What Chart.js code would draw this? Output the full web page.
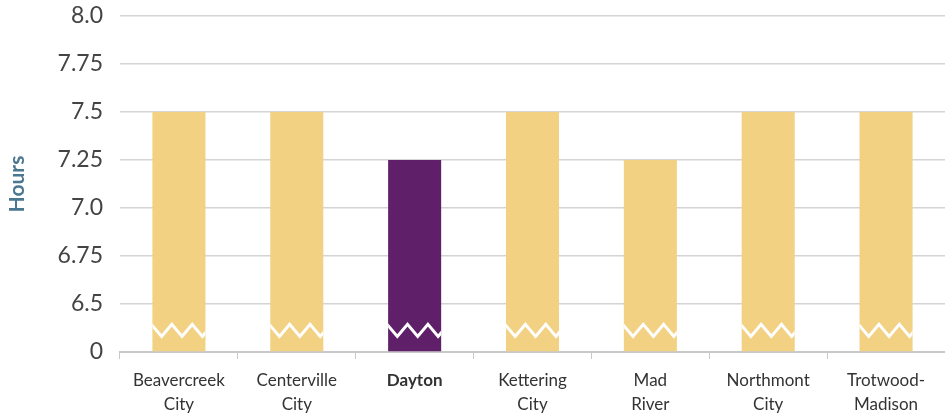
<!DOCTYPE html>
<html>
<head>
<meta charset="utf-8">
<script src="https://cdn.jsdelivr.net/npm/chart.js@4/dist/chart.umd.min.js"></script>
<style>
  html, body { margin: 0; padding: 0; background: #fff; }
  #wrap { width: 945px; height: 420px; position: relative; }
</style>
</head>
<body>
<div id="wrap"><canvas id="sleepChart"></canvas></div>
<script>
// districts along the bottom, labels split over two lines
const districts = [
    ['Beavercreek', 'City'], ['Centerville', 'City'], ['Dayton'],
    ['Kettering', 'City'], ['Mad', 'River'], ['Northmont', 'City'], ['Trotwood-', 'Madison']
];
// average hours of sleep
const hours = [7.5, 7.5, 7.25, 7.5, 7.25, 7.5, 7.5];
// broken axis: first step jumps from 0 to 6.5
const yTickLabels = ['0', '6.5', '6.75', '7.0', '7.25', '7.5', '7.75', '8.0'];
const highlight = 2;

// map hours onto the evenly spaced broken axis
const toAxis = v => v <= 0 ? 0 : 1 + (v - 6.5) / 0.25;

const gold = '#F2D183';
const purple = '#5F1F69';

// white zigzag across each bar to mark the axis break
const breakMarks = {
    id: 'breakMarks',
    afterDatasetsDraw(chart) {
        const c = chart.ctx;
        const y = chart.scales.y.getPixelForValue(0.45);
        const amp = 6;
        chart.getDatasetMeta(0).data.forEach(bar => {
            const left = bar.x - bar.width / 2;
            const right = bar.x + bar.width / 2;
            const step = bar.width / 5.2;
            c.save();
            c.beginPath();
            c.rect(left, y - 20, bar.width, 40);
            c.clip();
            c.beginPath();
            let x = left - step * 0.1;
            let up = true;
            c.moveTo(x, y - amp);
            while (x < right + step) {
                x += step;
                up = !up;
                c.lineTo(x, up ? y - amp : y + amp);
            }
            c.strokeStyle = '#fff';
            c.lineWidth = 3;
            c.stroke();
            c.restore();
        });
    }
};

new Chart(document.getElementById('sleepChart'), {
    type: 'bar',
    data: {
        labels: districts,
        datasets: [{
            data: hours.map(toAxis),
            backgroundColor: hours.map((h, i) => i === highlight ? purple : gold),
            barPercentage: 0.45,
            categoryPercentage: 1
        }]
    },
    options: {
        responsive: true,
        maintainAspectRatio: false,
        animation: false,
        layout: { padding: { top: 16, right: 0, left: 0, bottom: 0 } },
        plugins: { legend: { display: false }, tooltip: { enabled: false } },
        scales: {
            x: {
                afterFit: s => { s.height = 68; },
                grid: { offset: true, drawOnChartArea: false, drawTicks: true, tickLength: 7, color: '#c8c8c8' },
                border: { color: '#c8c8c8', width: 2 },
                ticks: {
                    color: '#333',
                    padding: 10,
                    maxRotation: 0,
                    autoSkip: false,
                    font: ctx => ({
                        family: 'Lato, "Open Sans", sans-serif',
                        size: 17,
                        lineHeight: 1.4,
                        weight: ctx.index === highlight ? 'bold' : 'normal'
                    })
                }
            },
            y: {
                min: 0,
                max: 7,
                afterFit: s => { s.width = 120; s.paddingTop = 0; s.paddingBottom = 0; },
                grid: { color: '#d4d4d4', lineWidth: 1.5, drawTicks: false },
                border: { display: false },
                ticks: {
                    stepSize: 1,
                    padding: 17,
                    color: '#444',
                    font: { family: 'Lato, "Open Sans", sans-serif', size: 23 },
                    callback: v => yTickLabels[v]
                },
                title: {
                    display: true,
                    text: 'Hours',
                    color: '#4A7891',
                    padding: { top: 5, bottom: 0 },
                    font: { family: 'Lato, "Open Sans", sans-serif', size: 21, weight: 'bold' }
                }
            }
        }
    },
    plugins: [breakMarks]
});
</script>
</body>
</html>
